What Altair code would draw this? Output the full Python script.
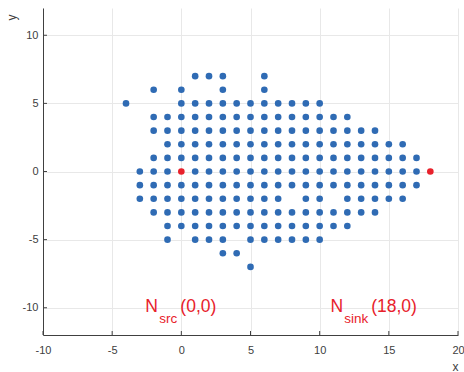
import altair as alt
import pandas as pd

# Blue node positions, one list of x values per row y
row_y = [7, 6, 5, 4, 3, 2, 1, 0, -1, -2, -3, -4, -5, -6, -7]
row_x = [
    [1, 2, 3, 6],
    [-2, 0, 3, 6],
    [-4, 0, 1, 2, 3, 4, 5, 6, 7, 8, 9, 10],
    [-2, -1, 0, 1, 2, 3, 4, 5, 6, 7, 8, 9, 10, 11, 12],
    [-2, -1, 0, 1, 2, 3, 4, 5, 6, 7, 8, 9, 10, 11, 12, 13, 14],
    [-1, 0, 1, 2, 3, 4, 5, 6, 7, 8, 9, 10, 11, 12, 13, 14, 15, 16],
    [-2, -1, 0, 1, 2, 3, 4, 5, 6, 7, 8, 9, 10, 11, 12, 13, 14, 15, 16, 17],
    [-3, -2, -1, 1, 2, 3, 4, 5, 6, 7, 8, 9, 10, 11, 12, 13, 14, 15, 16, 17],
    [-3, -2, -1, 0, 1, 2, 3, 4, 5, 6, 7, 8, 9, 10, 11, 12, 13, 14, 15, 16, 17],
    [-3, -2, -1, 0, 1, 2, 3, 4, 5, 6, 7, 9, 10, 12, 13, 14, 15, 16],
    [-2, -1, 0, 1, 2, 3, 4, 5, 6, 7, 8, 9, 10, 11, 12, 13, 14],
    [-1, 0, 1, 2, 3, 4, 5, 6, 7, 8, 9, 10, 11, 12],
    [-1, 1, 2, 3, 5, 6, 7, 8, 9, 10],
    [3, 4],
    [5],
]

# Source and sink nodes
special_x = [0, 18]
special_y = [0, 0]

x_ticks = [-10, -5, 0, 5, 10, 15, 20]
y_ticks = [-10, -5, 0, 5, 10]

# annotation pieces
ann_text = ["N", "src", "(0,0)", "N", "sink", "(18,0)"]
ann_x = [-2.6, -1.6, -0.07, 10.78, 11.78, 13.72]
ann_kind = ["main", "sub", "main", "main", "sub", "main"]
ann_y = -10

W, H = 415, 327
FONT = "Liberation Sans"
BLUE = "#2f6bb4"
RED = "#e8212b"
AXC = "#404040"

pts = pd.DataFrame(
    [{"x": x, "y": y} for y, xs in zip(row_y, row_x) for x in xs]
)
sp = pd.DataFrame({"x": special_x, "y": special_y})
ann = pd.DataFrame({"t": ann_text, "x": ann_x, "kind": ann_kind, "y": [ann_y] * len(ann_text)})

xs = alt.Scale(domain=[-10, 20], nice=False, zero=False)
ys = alt.Scale(domain=[-12, 12], nice=False, zero=False)

xaxis = alt.Axis(values=x_ticks, tickSize=0, labelPadding=9, labelFontSize=11,
                 labelExpr="'' + datum.value",
                 labelColor=AXC, labelFont=FONT, domainColor=AXC, gridColor="#e8e8e8",
                 title="x", titleFont=FONT, titleFontSize=12, titleFontWeight="normal",
                 titleColor=AXC, titleAnchor="end", titleX=W, titleY=35,
                 titleAlign="right", titleBaseline="alphabetic", labelFlush=False)
yaxis = alt.Axis(values=y_ticks, tickSize=0, labelPadding=5, labelFontSize=11,
                 labelExpr="'' + datum.value",
                 labelColor=AXC, labelFont=FONT, domainColor=AXC, gridColor="#e8e8e8",
                 title="y", titleFont=FONT, titleFontSize=12, titleFontWeight="normal",
                 titleColor=AXC, titleAngle=270, titleX=-28, titleY=6,
                 titleAlign="right", titleBaseline="alphabetic", labelFlush=False)

blue = alt.Chart(pts).mark_circle(size=44, opacity=1, color=BLUE).encode(
    x=alt.X("x:Q", scale=xs, axis=xaxis),
    y=alt.Y("y:Q", scale=ys, axis=yaxis),
)
red = alt.Chart(sp).mark_circle(size=44, opacity=1, color=RED).encode(
    x=alt.X("x:Q", scale=xs), y=alt.Y("y:Q", scale=ys)
)

main_txt = alt.Chart(ann).transform_filter(alt.datum.kind == "main").mark_text(
    align="left", baseline="alphabetic", font=FONT, fontSize=17.5, color=RED, dy=4
).encode(x=alt.X("x:Q", scale=xs), y=alt.Y("y:Q", scale=ys), text="t:N")
sub_txt = alt.Chart(ann).transform_filter(alt.datum.kind == "sub").mark_text(
    align="left", baseline="alphabetic", font=FONT, fontSize=13.5, color=RED, dy=15
).encode(x=alt.X("x:Q", scale=xs), y=alt.Y("y:Q", scale=ys), text="t:N")

xt = alt.Chart(pd.DataFrame({"v": x_ticks})).mark_rule(color=AXC, strokeWidth=1).encode(
    x=alt.X("v:Q", scale=xs), y=alt.value(H), y2=alt.value(H - 4)
)
yt = alt.Chart(pd.DataFrame({"v": y_ticks})).mark_rule(color=AXC, strokeWidth=1).encode(
    y=alt.Y("v:Q", scale=ys), x=alt.value(0), x2=alt.value(4)
)

chart = alt.layer(blue, red, main_txt, sub_txt, xt, yt).properties(
    width=W, height=H,
    autosize=alt.AutoSizeParams(type="none"),
    padding={"left": 43, "top": 8, "right": 6, "bottom": 37},
).configure_view(stroke=None).configure_axis(domainWidth=1)

chart.save("out.html", embed_options={"renderer": "svg", "actions": False})
